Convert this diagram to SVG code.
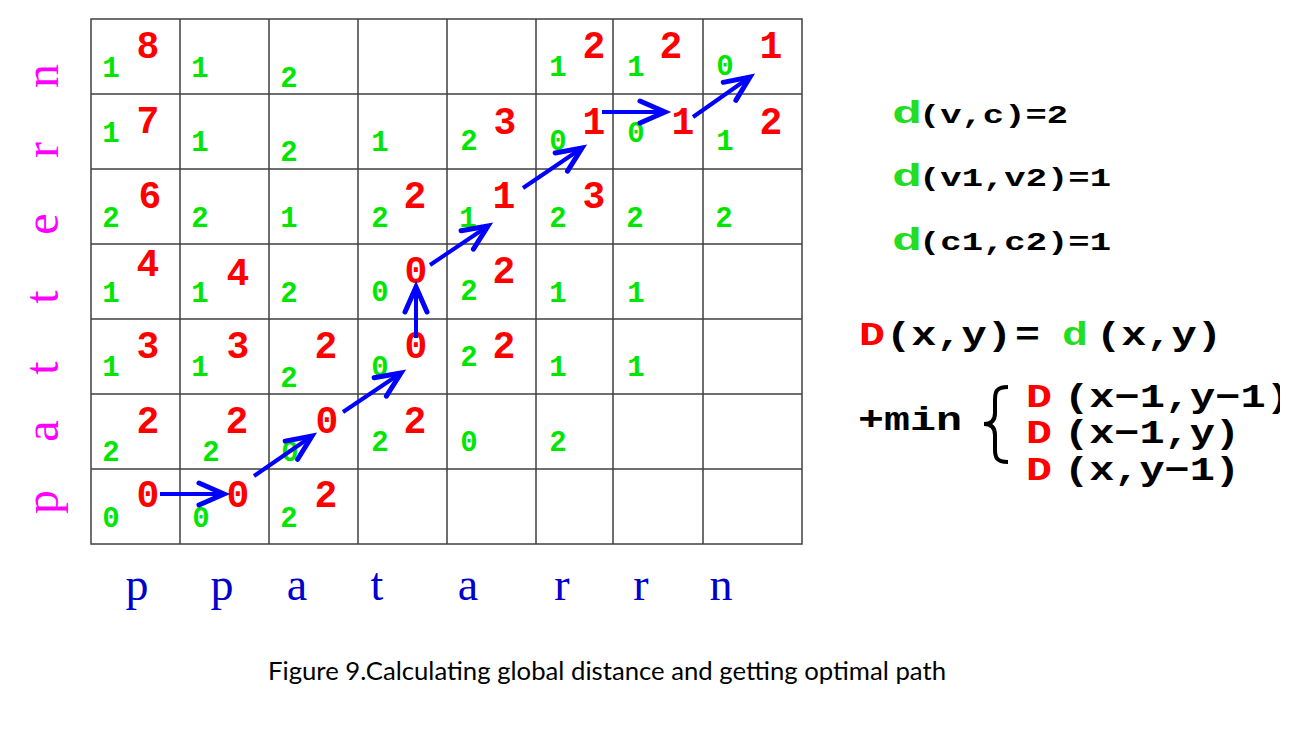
<svg xmlns="http://www.w3.org/2000/svg" width="1307" height="729" viewBox="0 0 1307 729">
<style>
.g{font-family:"Liberation Mono","Courier New",monospace;font-weight:bold;font-size:29px;fill:#00e600;text-anchor:middle}
.r{font-family:"Liberation Mono","Courier New",monospace;font-weight:bold;font-size:38px;fill:#ff0000;text-anchor:middle}
.grid{fill:none;stroke:#404040;stroke-width:1.5}
.side{font-family:"Liberation Serif","Times New Roman",serif;font-size:48px;fill:#ff00ff;text-anchor:middle}
.bot{font-family:"Liberation Serif","Times New Roman",serif;font-size:46px;fill:#0000cc;text-anchor:middle}
.m{font-family:"Liberation Mono","Courier New",monospace;font-weight:bold}
.k{fill:#000}
.rd{fill:#ff0000}
.gd{fill:#22dd22}
.arr{fill:none;stroke:#0000ff;stroke-width:4;marker-end:url(#ah)}
</style>
<defs>
<marker id="ah" markerUnits="userSpaceOnUse" viewBox="-30 -15 34 30" refX="0" refY="0" markerWidth="34" markerHeight="30" orient="auto" overflow="visible">
<path d="M-25,-11 L0,0 L-25,11" fill="none" stroke="#0000ff" stroke-width="5" stroke-linecap="round" stroke-linejoin="miter"/>
</marker>
<clipPath id="clipR"><rect x="0" y="0" width="1280" height="729"/></clipPath>
</defs>
<rect width="1307" height="729" fill="#fff"/>
<g id="grid">
<rect class="grid" x="91" y="19" width="711" height="525"/>
<path class="grid" d="M180,19V544M269,19V544M358,19V544M447,19V544M536,19V544M613,19V544M703,19V544M91,94H802M91,169H802M91,244H802M91,319H802M91,394H802M91,469H802"/>
</g>
<g id="row-n">
<text class="g" x="111" y="77">1</text><text class="r" x="148" y="58">8</text>
<text class="g" x="200" y="77">1</text>
<text class="g" x="289" y="87">2</text>
<text class="g" x="558" y="76">1</text><text class="r" x="594" y="58">2</text>
<text class="g" x="636" y="76">1</text><text class="r" x="671" y="58">2</text>
<text class="g" x="725" y="75">0</text><text class="r" x="771" y="58">1</text>
</g>
<g id="row-r">
<text class="g" x="111" y="142">1</text><text class="r" x="148" y="133">7</text>
<text class="g" x="200" y="151">1</text>
<text class="g" x="289" y="161">2</text>
<text class="g" x="380" y="151">1</text>
<text class="g" x="469" y="150">2</text><text class="r" x="505" y="134">3</text>
<text class="g" x="558" y="150">0</text><text class="r" x="594" y="134">1</text>
<text class="g" x="636" y="142">0</text><text class="r" x="683" y="134">1</text>
<text class="g" x="725" y="150">1</text><text class="r" x="771" y="134">2</text>
</g>
<g id="row-e">
<text class="g" x="111" y="227">2</text><text class="r" x="150" y="208">6</text>
<text class="g" x="200" y="227">2</text>
<text class="g" x="289" y="227">1</text>
<text class="g" x="380" y="227">2</text><text class="r" x="415" y="208">2</text>
<text class="g" x="468" y="227">1</text><text class="r" x="504" y="208">1</text>
<text class="g" x="558" y="227">2</text><text class="r" x="594" y="208">3</text>
<text class="g" x="635" y="227">2</text>
<text class="g" x="724" y="227">2</text>
</g>
<g id="row-t2">
<text class="g" x="111" y="302">1</text><text class="r" x="148" y="276">4</text>
<text class="g" x="200" y="302">1</text><text class="r" x="238" y="285">4</text>
<text class="g" x="289" y="302">2</text>
<text class="g" x="380" y="301">0</text><text class="r" x="416" y="283">0</text>
<text class="g" x="469" y="300">2</text><text class="r" x="504" y="283">2</text>
<text class="g" x="558" y="302">1</text>
<text class="g" x="636" y="302">1</text>
</g>
<g id="row-t1">
<text class="g" x="111" y="376">1</text><text class="r" x="148" y="358">3</text>
<text class="g" x="200" y="376">1</text><text class="r" x="238" y="358">3</text>
<text class="g" x="289" y="387">2</text><text class="r" x="326" y="358">2</text>
<text class="g" x="380" y="376">0</text><text class="r" x="416" y="358">0</text>
<text class="g" x="469" y="366">2</text><text class="r" x="504" y="358">2</text>
<text class="g" x="558" y="376">1</text>
<text class="g" x="636" y="376">1</text>
</g>
<g id="row-a">
<text class="g" x="111" y="461">2</text><text class="r" x="148" y="433">2</text>
<text class="g" x="211" y="461">2</text><text class="r" x="237" y="433">2</text>
<text class="g" x="290" y="461">0</text><text class="r" x="327" y="433">0</text>
<text class="g" x="380" y="451">2</text><text class="r" x="415" y="433">2</text>
<text class="g" x="469" y="451">0</text>
<text class="g" x="558" y="451">2</text>
</g>
<g id="row-p">
<text class="g" x="111" y="527">0</text><text class="r" x="148" y="507">0</text>
<text class="g" x="201" y="527">0</text><text class="r" x="238" y="507">0</text>
<text class="g" x="289" y="527">2</text><text class="r" x="326" y="507">2</text>
</g>
<g id="connectors">
<path class="arr" d="M160,494 L224,494"/>
<path class="arr" d="M254,476 L312,436"/>
<path class="arr" d="M343,412 L401,373"/>
<path class="arr" d="M416,338 L416,287"/>
<path class="arr" d="M430,265 L488,226"/>
<path class="arr" d="M523,188 L582,148"/>
<path class="arr" d="M602,112 L665,112"/>
<path class="arr" d="M693,117 L750,77"/>
</g>
<g id="pattern-vertical">
<text class="side" transform="translate(58,76) rotate(-90)">n</text>
<text class="side" transform="translate(58,150) rotate(-90)">r</text>
<text class="side" transform="translate(58,224) rotate(-90)">e</text>
<text class="side" transform="translate(58,297) rotate(-90)">t</text>
<text class="side" transform="translate(58,368) rotate(-90)">t</text>
<text class="side" transform="translate(58,431) rotate(-90)">a</text>
<text class="side" transform="translate(58,502) rotate(-90)">p</text>
</g>
<g id="pattern-horizontal">
<text class="bot" x="137" y="600">p</text>
<text class="bot" x="222" y="600">p</text>
<text class="bot" x="297" y="600">a</text>
<text class="bot" x="377" y="600">t</text>
<text class="bot" x="468" y="600">a</text>
<text class="bot" x="562" y="600">r</text>
<text class="bot" x="641" y="600">r</text>
<text class="bot" x="721" y="600">n</text>
</g>
<g id="local-distances">
<text class="m gd" x="892" y="123" font-size="31" textLength="30" lengthAdjust="spacingAndGlyphs">d</text>
<text class="m k" x="919" y="123" font-size="25" textLength="149" lengthAdjust="spacingAndGlyphs">(v,c)=2</text>
<text class="m gd" x="892" y="186" font-size="31" textLength="30" lengthAdjust="spacingAndGlyphs">d</text>
<text class="m k" x="919" y="186" font-size="25" textLength="192" lengthAdjust="spacingAndGlyphs">(v1,v2)=1</text>
<text class="m gd" x="892" y="250" font-size="31" textLength="30" lengthAdjust="spacingAndGlyphs">d</text>
<text class="m k" x="919" y="250" font-size="25" textLength="192" lengthAdjust="spacingAndGlyphs">(c1,c2)=1</text>
</g>
<g id="formula" font-size="33">
<text class="m rd" x="859" y="345" textLength="26" lengthAdjust="spacingAndGlyphs">D</text>
<text class="m k" x="886" y="345" textLength="126" lengthAdjust="spacingAndGlyphs">(x,y)</text>
<text class="m k" x="1015" y="345" textLength="25" lengthAdjust="spacingAndGlyphs">=</text>
<text class="m gd" x="1062" y="345" textLength="26" lengthAdjust="spacingAndGlyphs">d</text>
<text class="m k" x="1096" y="345" textLength="126" lengthAdjust="spacingAndGlyphs">(x,y)</text>
<text class="m k" x="858" y="430" textLength="104" lengthAdjust="spacingAndGlyphs">+min</text>
<path d="M1008,387 C996,387 995,392 995,400 L995,413 C995,420 992,424 984,424 C992,424 995,428 995,435 L995,449 C995,457 996,462 1008,462" fill="none" stroke="#000" stroke-width="4"/>
<g clip-path="url(#clipR)">
<text class="m rd" x="1026" y="407" textLength="26" lengthAdjust="spacingAndGlyphs">D</text>
<text class="m k" x="1064" y="407" textLength="227" lengthAdjust="spacingAndGlyphs">(x−1,y−1)</text>
</g>
<text class="m rd" x="1026" y="443" textLength="26" lengthAdjust="spacingAndGlyphs">D</text>
<text class="m k" x="1064" y="443" textLength="176" lengthAdjust="spacingAndGlyphs">(x−1,y)</text>
<text class="m rd" x="1026" y="480" textLength="26" lengthAdjust="spacingAndGlyphs">D</text>
<text class="m k" x="1064" y="480" textLength="176" lengthAdjust="spacingAndGlyphs">(x,y−1)</text>
</g>
<g id="caption">
<text x="268" y="680" font-family="Lato, 'Liberation Sans', sans-serif" font-size="25" fill="#000" textLength="678" lengthAdjust="spacingAndGlyphs">Figure 9.Calculating global distance and getting optimal path</text>
</g>
</svg>
